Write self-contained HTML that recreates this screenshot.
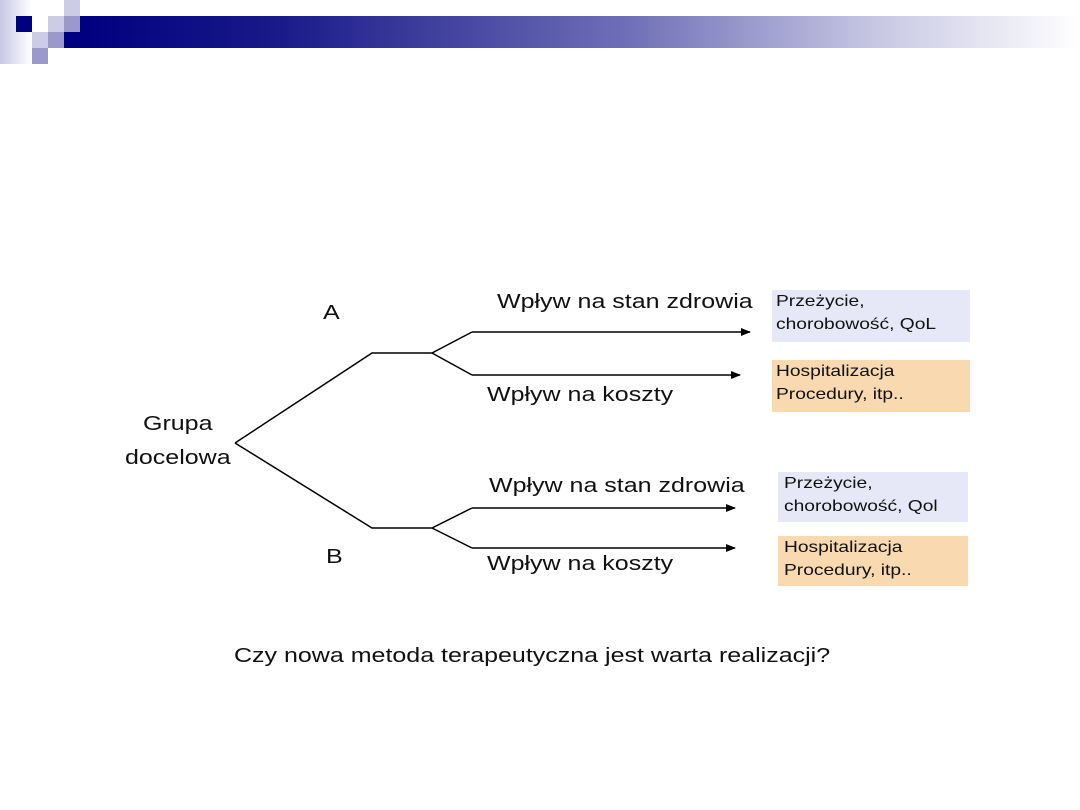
<!DOCTYPE html>
<html><head><meta charset="utf-8"><style>
body{margin:0;width:1080px;height:810px;background:#fff;position:relative;overflow:hidden;font-family:"Liberation Sans",sans-serif;}
.a{position:absolute}
.t{position:absolute;color:#111;white-space:nowrap;transform-origin:0 0;transform:scaleX(1.25)}
.s{transform:scaleX(1.2)}
</style></head><body>
<div class="a" style="left:0;top:0;width:32px;height:64px;background:linear-gradient(90deg,#c8c8e4,#fff)"></div>
<div class="a" style="left:80px;top:16px;width:1000px;height:32px;background:linear-gradient(90deg,#000080 0%,#1a1a8a 20%,#7070b8 55%,#c8c8e4 80%,#fff 100%)"></div>
<div class="a" style="left:64px;top:32px;width:16px;height:16px;background:#000080"></div>
<div class="a" style="left:16px;top:16px;width:16px;height:16px;background:#000080"></div>
<div class="a" style="left:48px;top:16px;width:16px;height:16px;background:#cccce6"></div>
<div class="a" style="left:64px;top:16px;width:16px;height:16px;background:#9999cc"></div>
<div class="a" style="left:64px;top:0;width:16px;height:16px;background:#cccce6"></div>
<div class="a" style="left:32px;top:32px;width:16px;height:16px;background:#cccce6"></div>
<div class="a" style="left:48px;top:32px;width:16px;height:16px;background:#9999cc"></div>
<div class="a" style="left:32px;top:48px;width:16px;height:16px;background:#9999cc"></div>

<div class="a" style="left:772px;top:290px;width:198px;height:52px;background:#e6e8f8"></div>
<div class="a" style="left:772px;top:360px;width:198px;height:52px;background:#f8d9b0"></div>
<div class="a" style="left:778px;top:472px;width:190px;height:50px;background:#e6e8f8"></div>
<div class="a" style="left:778px;top:536px;width:190px;height:50px;background:#f8d9b0"></div>

<svg class="a" style="left:0;top:0" width="1080" height="810">
<defs><marker id="m" markerWidth="10" markerHeight="8" refX="9" refY="4" orient="auto" markerUnits="userSpaceOnUse"><path d="M0,0L10,4L0,8z" fill="#000"/></marker></defs>
<g stroke="#000" stroke-width="1.5" fill="none">
<polyline points="235,443 372,353 432,353 472,332"/>
<polyline points="432,353 472,375"/>
<polyline points="235,443 372,528 432,528 472,508"/>
<polyline points="432,528 472,548"/>
<line x1="472" y1="332" x2="750" y2="332" marker-end="url(#m)"/>
<line x1="472" y1="375" x2="740" y2="375" marker-end="url(#m)"/>
<line x1="472" y1="508" x2="735" y2="508" marker-end="url(#m)"/>
<line x1="472" y1="548" x2="735" y2="548" marker-end="url(#m)"/>
</g></svg>

<div class="t" style="left:323px;top:302px;font-size:20px">A</div>
<div class="t" style="left:326px;top:546px;font-size:20px">B</div>
<div class="t" style="left:143px;top:413px;font-size:20px">Grupa</div>
<div class="t" style="left:125px;top:447px;font-size:20px">docelowa</div>
<div class="t" style="left:497px;top:291px;font-size:20px">Wpływ na stan zdrowia</div>
<div class="t" style="left:487px;top:384px;font-size:20px">Wpływ na koszty</div>
<div class="t" style="left:489px;top:475px;font-size:20px">Wpływ na stan zdrowia</div>
<div class="t" style="left:487px;top:553px;font-size:20px">Wpływ na koszty</div>
<div class="t s" style="left:776px;top:290px;font-size:16px;line-height:23px">Przeżycie,<br>chorobowość, QoL</div>
<div class="t s" style="left:776px;top:360px;font-size:16px;line-height:23px">Hospitalizacja<br>Procedury, itp..</div>
<div class="t s" style="left:784px;top:472px;font-size:16px;line-height:23px">Przeżycie,<br>chorobowość, Qol</div>
<div class="t s" style="left:784px;top:536px;font-size:16px;line-height:23px">Hospitalizacja<br>Procedury, itp..</div>
<div class="t" style="left:234px;top:645px;font-size:20px">Czy nowa metoda terapeutyczna jest warta realizacji?</div>
</body></html>
